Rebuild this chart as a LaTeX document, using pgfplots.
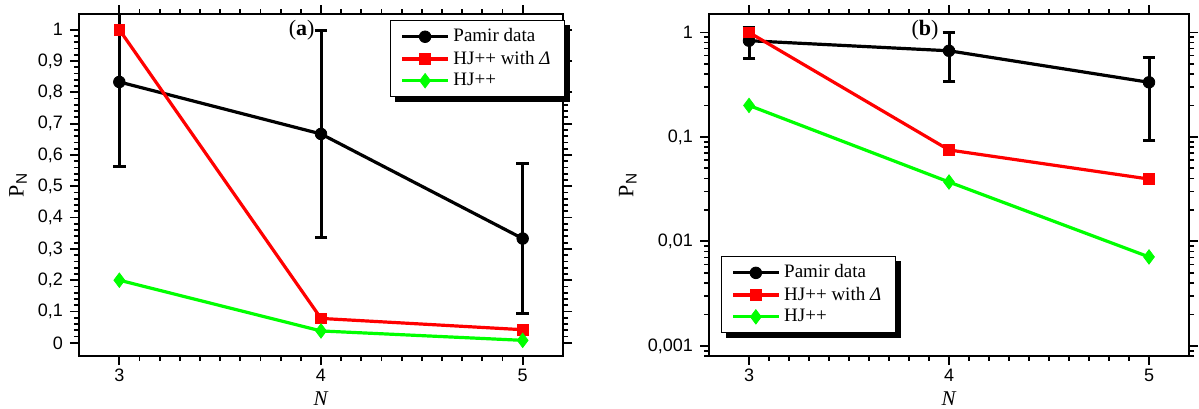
\documentclass[border=0pt]{standalone}
\usepackage{fontspec}
\setmainfont{Liberation Serif}
\setsansfont{Liberation Sans}
\usepackage{pgfplots}
\pgfplotsset{compat=1.18}
\usetikzlibrary{backgrounds}

\definecolor{pred}{RGB}{255,0,0}
\definecolor{pgreen}{RGB}{0,255,0}

\pgfplotsset{
  panel/.style={
    scale only axis,
    xmin=2.8, xmax=5.2,
    xtick={3,4,5},
    minor x tick num=9,
    tick align=outside,
    major tick length=4.5pt,
    minor tick length=2.5pt,
    tick style={black, line width=0.9pt},
    axis line style={line width=1pt},
    tick label style={font=\sffamily\fontsize{9}{10}\selectfont},
    xticklabel style={yshift=-1pt, inner sep=1pt},
    /pgf/number format/assume math mode=true,
    /pgf/number format/use comma,
    xlabel={\fontsize{10.5}{12}\selectfont\textit{N}},
    ylabel={\fontsize{11}{12}\selectfont P\textsubscript{\sffamily N}},
    xlabel style={at={(axis description cs:0.5,-0.124)}, anchor=center, inner sep=0pt},
    legend cell align=left,
    legend style={font=\fontsize{9.5}{11}\selectfont, draw=black, line width=0.5pt,
      fill=white, inner xsep=5pt, inner ysep=2pt, row sep=-1pt},
    legend image code/.code={\draw[mark repeat=2,mark phase=2,##1]
      plot coordinates {(0cm,0cm) (0.4cm,0cm) (0.8cm,0cm)};},
  },
  pamir/.style={black, line width=1.6pt, mark=*, mark size=2.9pt, mark options={solid, line width=0.4pt}},
  hjd/.style={pred, line width=1.6pt, mark=square*, mark size=2.7pt, mark options={solid, line width=0.4pt}},
  hj/.style={pgreen, line width=1.6pt, mark=diamond*, mark size=3.6pt, mark options={solid, line width=0.4pt}},
}

\begin{document}
\begin{tikzpicture}
\path[use as bounding box] (0,0) rectangle (599.5pt,204pt);

% (a) linear scale
\begin{axis}[panel,
    at={(39.5pt,26pt)}, anchor=south west,
    width=242pt, height=171pt,
    ymin=-0.042, ymax=1.05,
    ytick={0,0.1,...,1},
    minor y tick num=4,
    yticklabel style={/pgf/number format/fixed, /pgf/number format/precision=1},
    ylabel style={at={(axis description cs:-0.126,0.5)}, anchor=center},
    legend style={at={(1.004,0.982)}, anchor=north east, name=lega},
]
\addplot+[pamir, error bars/.cd, y dir=both, y explicit,
    error bar style={line width=1.5pt},
    error mark options={rotate=90, mark size=3.2pt, line width=1.5pt}]
  coordinates {(3,0.833) +- (0,0.27) (4,0.667) +- (0,0.33) (5,0.333) +- (0,0.24)};
\addplot+[hjd] coordinates {(3,1.0) (4,0.078) (5,0.042)};
\addplot+[hj] coordinates {(3,0.2) (4,0.038) (5,0.008)};
\legend{Pamir data, HJ++ with \textit{Δ}, HJ++}
\node[font=\fontsize{11}{12}\selectfont] at (rel axis cs:0.46,0.953) {(\textbf{a})};
\end{axis}

% (b) log scale
\begin{axis}[panel,
    at={(354.5pt,26pt)}, anchor=south west,
    width=240pt, height=171pt,
    ymode=log,
    ymin=8e-4, ymax=1.5,
    log ticks with fixed point,
    /pgf/number format/precision=3,
    ylabel style={at={(axis description cs:-0.169,0.5)}, anchor=center},
    legend style={at={(0.025,0.067)}, anchor=south west, name=legb},
]
\addplot+[pamir, error bars/.cd, y dir=both, y explicit,
    error bar style={line width=1.5pt},
    error mark options={rotate=90, mark size=3.2pt, line width=1.5pt}]
  coordinates {(3,0.833) +- (0,0.27) (4,0.667) +- (0,0.33) (5,0.333) +- (0,0.24)};
\addplot+[hjd] coordinates {(3,1.0) (4,0.075) (5,0.0395)};
\addplot+[hj] coordinates {(3,0.2) (4,0.037) (5,0.0071)};
\legend{Pamir data, HJ++ with \textit{Δ}, HJ++}
\node[font=\fontsize{11}{12}\selectfont] at (rel axis cs:0.45,0.953) {(\textbf{b})};
\end{axis}

% drop shadows of the two legend boxes
\begin{pgfonlayer}{background}
  \fill[black] ([shift={(2.5pt,-2.5pt)}]lega.south west) rectangle ([shift={(2.5pt,-2.5pt)}]lega.north east);
  \fill[black] ([shift={(2.5pt,-2.5pt)}]legb.south west) rectangle ([shift={(2.5pt,-2.5pt)}]legb.north east);
\end{pgfonlayer}
\end{tikzpicture}
\end{document}
